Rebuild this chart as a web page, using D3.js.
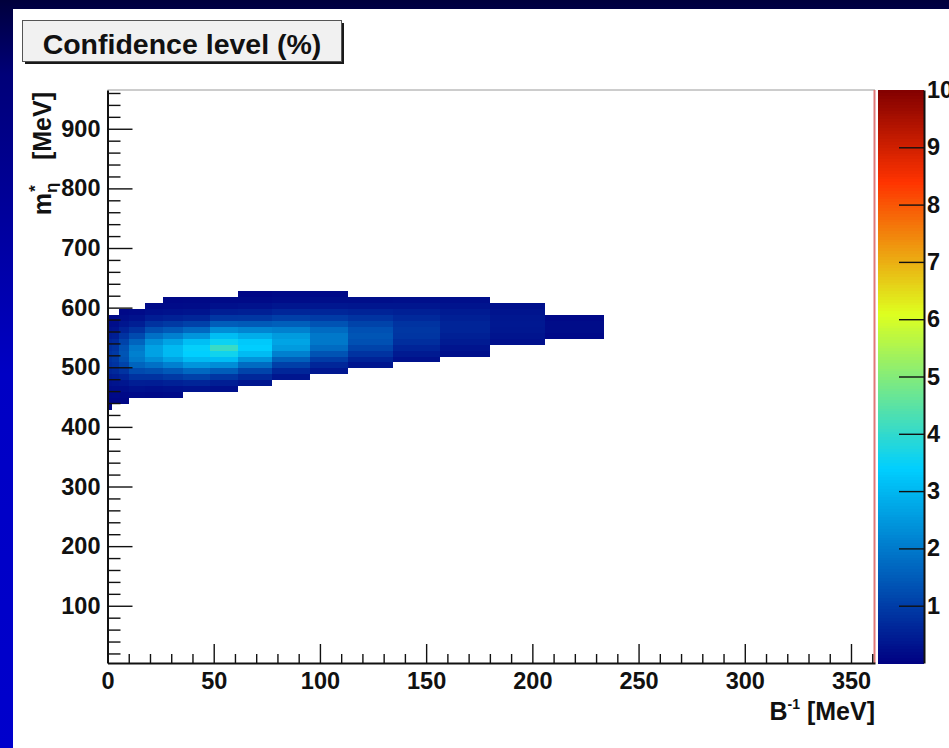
<!DOCTYPE html>
<html>
<head>
<meta charset="utf-8">
<script src="https://cdn.jsdelivr.net/npm/d3@7"></script>
<style>
  html, body { margin: 0; padding: 0; background: #fff; }
  svg { display: block; }
</style>
</head>
<body>
<svg id="chart" width="949" height="748"></svg>
<script>
// Bin edges of the 2D histogram (B^-1 in MeV, m* in MeV)
const xEdges = [0, 2.1, 5.4, 10.1, 17.7, 26.1, 35.5, 48.3, 61.4, 77.4, 95.3, 113.2, 134.4, 156.5, 180.1, 206.0, 233.8];
const yEdges = [628, 618, 608, 598, 588, 578, 568, 558, 548, 538, 528, 518, 508, 498, 488, 478, 468, 458, 448, 438, 428];

// For every x bin: index of its first filled y row (counted from the top) ...
const firstRow = [4, 4, 3, 3, 2, 1, 1, 1, 0, 0, 0, 1, 1, 1, 2, 4];
// ... and the confidence level (%) of each filled cell, top to bottom
const columnLevels = [
  [0.15, 0.21, 0.30, 0.45, 0.60, 0.75, 0.84, 0.84, 0.75, 0.60, 0.45, 0.30, 0.21, 0.15, 0.12, 0.10],
  [0.16, 0.23, 0.33, 0.49, 0.67, 0.84, 0.93, 0.93, 0.84, 0.67, 0.49, 0.33, 0.23, 0.16, 0.12],
  [0.15, 0.23, 0.36, 0.57, 0.83, 1.10, 1.32, 1.40, 1.32, 1.10, 0.83, 0.57, 0.36, 0.23, 0.15, 0.12],
  [0.18, 0.30, 0.50, 0.82, 1.22, 1.64, 1.98, 2.10, 1.98, 1.64, 1.22, 0.82, 0.50, 0.30, 0.18],
  [0.17, 0.27, 0.48, 0.82, 1.29, 1.84, 2.35, 2.66, 2.66, 2.35, 1.84, 1.29, 0.82, 0.48, 0.27, 0.17],
  [0.13, 0.18, 0.30, 0.54, 0.93, 1.47, 2.11, 2.70, 3.05, 3.05, 2.70, 2.11, 1.47, 0.93, 0.54, 0.30, 0.18],
  [0.14, 0.20, 0.33, 0.61, 1.06, 1.70, 2.45, 3.13, 3.45, 3.40, 3.05, 2.45, 1.70, 1.06, 0.61, 0.33],
  [0.17, 0.26, 0.50, 0.89, 1.52, 2.31, 3.10, 3.55, 4.10, 3.60, 3.10, 2.31, 1.52, 0.89, 0.50, 0.26],
  [0.10, 0.17, 0.29, 0.52, 0.91, 1.48, 2.18, 2.84, 3.30, 3.38, 3.07, 2.44, 1.75, 1.12, 0.65, 0.36],
  [0.14, 0.20, 0.36, 0.62, 1.04, 1.56, 2.10, 2.54, 2.70, 2.54, 2.10, 1.56, 1.04, 0.62, 0.36],
  [0.15, 0.23, 0.38, 0.62, 0.97, 1.37, 1.75, 1.97, 1.97, 1.75, 1.37, 0.97, 0.62, 0.38],
  [0.23, 0.36, 0.57, 0.83, 1.10, 1.32, 1.40, 1.32, 1.10, 0.83, 0.57, 0.36],
  [0.24, 0.36, 0.52, 0.68, 0.83, 0.90, 0.87, 0.75, 0.59, 0.42, 0.28],
  [0.24, 0.33, 0.44, 0.53, 0.59, 0.59, 0.53, 0.44, 0.33, 0.24],
  [0.27, 0.33, 0.38, 0.40, 0.38, 0.33, 0.27],
  [0.15, 0.20, 0.20, 0.15]
];

// Axis ticks
const xTicks = [0, 50, 100, 150, 200, 250, 300, 350];
const xMinorTicks = [10, 20, 30, 40, 60, 70, 80, 90, 110, 120, 130, 140, 160, 170, 180, 190, 210, 220, 230, 240, 260, 270, 280, 290, 310, 320, 330, 340, 360];
const yTicks = [100, 200, 300, 400, 500, 600, 700, 800, 900];
const yMinorTicks = [20, 40, 60, 80, 120, 140, 160, 180, 220, 240, 260, 280, 320, 340, 360, 380, 420, 440, 460, 480,
                     520, 540, 560, 580, 620, 640, 660, 680, 720, 740, 760, 780, 820, 840, 860, 880, 920, 940, 960];
const zTicks = [1, 2, 3, 4, 5, 6, 7, 8, 9, 10];

// Palette stops (level -> colour)
const paletteStops = [0, 3.4, 6.1, 8.4, 10];
const paletteColors = ["rgb(0,0,130)", "rgb(0,207,255)", "rgb(222,255,31)", "rgb(255,51,0)", "rgb(130,0,0)"];

const W = 949, H = 748;
const FONT = "'Liberation Sans', Arial, Helvetica, sans-serif";
const svg = d3.select("#chart");

// Slide background and white pad
const defs = svg.append("defs");
const bg = defs.append("linearGradient").attr("id", "slideBg")
  .attr("x1", 0).attr("y1", 0).attr("x2", 0).attr("y2", 1);
[[0, "#00003c"], [0.1, "#000078"], [0.5, "#0000c4"], [1, "#0000cc"]].forEach(([o, c]) =>
  bg.append("stop").attr("offset", o).attr("stop-color", c));
svg.append("rect").attr("width", W).attr("height", H).attr("fill", "url(#slideBg)");
svg.append("rect").attr("x", 13).attr("y", 9).attr("width", W - 13).attr("height", H - 9).attr("fill", "#ffffff");

// Scales
const plot = { left: 107.5, right: 875, top: 90, bottom: 663 };
const x = d3.scaleLinear().domain([0, 361.3]).range([plot.left, plot.right]);
const y = d3.scaleLinear().domain([4, 965]).range([plot.bottom, plot.top]);
const z = d3.scaleLinear().domain(paletteStops).range(paletteColors)
  .interpolate(d3.interpolateRgb).clamp(true);
const zy = d3.scaleLinear().domain([0, 10]).range([plot.bottom, plot.top]);

// Histogram cells
const cells = [];
columnLevels.forEach((levels, i) => {
  levels.forEach((v, j) => {
    const r = firstRow[i] + j;
    cells.push({ x0: xEdges[i], x1: xEdges[i + 1], y0: yEdges[r + 1], y1: yEdges[r], v });
  });
});
svg.append("g").attr("shape-rendering", "crispEdges")
  .selectAll("rect").data(cells).join("rect")
  .attr("x", d => x(d.x0))
  .attr("width", d => x(d.x1) - x(d.x0))
  .attr("y", d => y(d.y1))
  .attr("height", d => y(d.y0) - y(d.y1))
  .attr("fill", d => z(d.v));

// Frame: top and right edges
svg.append("line").attr("x1", plot.left).attr("x2", plot.right).attr("y1", plot.top).attr("y2", plot.top)
  .attr("stroke", "#9a9a9a").attr("stroke-width", 1);
svg.append("line").attr("x1", plot.right - 0.5).attr("x2", plot.right - 0.5).attr("y1", plot.top).attr("y2", plot.bottom)
  .attr("stroke", "#e07878").attr("stroke-width", 2);

function styleAxis(g, size) {
  g.selectAll("text").attr("font-family", FONT).attr("font-weight", "bold")
    .attr("font-size", size).attr("fill", "#111");
  g.selectAll("line").attr("stroke", "#111").attr("stroke-width", 1.4);
  g.select(".domain").attr("stroke", "#111").attr("stroke-width", 2);
}

// Y axis (ticks point into the frame)
const gyMinor = svg.append("g").attr("transform", `translate(${plot.left},0)`)
  .call(d3.axisLeft(y).tickValues(yMinorTicks).tickSize(-13).tickFormat(""));
gyMinor.select(".domain").remove();
gyMinor.selectAll("line").attr("stroke", "#111").attr("stroke-width", 1.4);
const gy = svg.append("g").attr("transform", `translate(${plot.left},0)`)
  .call(d3.axisLeft(y).tickValues(yTicks).tickSize(-25).tickSizeOuter(0).tickPadding(7));
styleAxis(gy, 23.5);

// X axis
const gxMinor = svg.append("g").attr("transform", `translate(0,${plot.bottom})`)
  .call(d3.axisBottom(x).tickValues(xMinorTicks).tickSize(-9).tickFormat(""));
gxMinor.select(".domain").remove();
gxMinor.selectAll("line").attr("stroke", "#111").attr("stroke-width", 1.4);
const gx = svg.append("g").attr("transform", `translate(0,${plot.bottom})`)
  .call(d3.axisBottom(x).tickValues(xTicks).tickSize(-19).tickSizeOuter(0).tickPadding(9));
styleAxis(gx, 23.5);

// Colour palette
const pal = { left: 878, right: 924 };
const steps = d3.range(0, 10, 0.05);
svg.append("g").attr("shape-rendering", "crispEdges")
  .selectAll("rect").data(steps).join("rect")
  .attr("x", pal.left).attr("width", pal.right - pal.left)
  .attr("y", d => zy(d + 0.05)).attr("height", d => zy(d) - zy(d + 0.05) + 0.6)
  .attr("fill", d => z(d + 0.025));
const gz = svg.append("g").attr("transform", `translate(${pal.right},0)`)
  .call(d3.axisRight(zy).tickValues(zTicks).tickSize(-25).tickSizeOuter(0).tickPadding(3));
styleAxis(gz, 23.5);
gz.selectAll(".tick").filter(d => d === 10).select("line").remove();

// Axis titles
svg.append("text")
  .attr("transform", `translate(51,92) rotate(-90)`)
  .attr("text-anchor", "end")
  .attr("font-family", FONT).attr("font-weight", "bold").attr("font-size", 25).attr("fill", "#111")
  .call(t => {
    t.append("tspan").text("m");
    t.append("tspan").attr("font-size", 17).attr("dy", 6).text("\u03B7");
    t.append("tspan").attr("font-size", 17).attr("dx", -9).attr("dy", -16).text("*");
    t.append("tspan").attr("dy", 10).attr("dx", 18).text(" [MeV]");
  });

svg.append("text")
  .attr("x", plot.right).attr("y", 720)
  .attr("text-anchor", "end")
  .attr("font-family", FONT).attr("font-weight", "bold").attr("font-size", 25).attr("fill", "#111")
  .call(t => {
    t.append("tspan").text("B");
    t.append("tspan").attr("font-size", 14).attr("dy", -11).text("-1");
    t.append("tspan").attr("dy", 11).text(" [MeV]");
  });

// Title box with drop shadow
const box = { x: 22.5, y: 20.5, w: 319, h: 41 };
svg.append("rect").attr("x", box.x + 2.5).attr("y", box.y + 2.5).attr("width", box.w).attr("height", box.h).attr("fill", "#1a1a1a");
svg.append("rect").attr("x", box.x).attr("y", box.y).attr("width", box.w).attr("height", box.h)
  .attr("fill", "#f1f1f1").attr("stroke", "#555").attr("stroke-width", 1);
svg.append("text").attr("x", box.x + box.w / 2).attr("y", 53.5).attr("text-anchor", "middle")
  .attr("font-family", FONT).attr("font-weight", "bold").attr("font-size", 28.5).attr("fill", "#111")
  .text("Confidence level (%)");
</script>
</body>
</html>
